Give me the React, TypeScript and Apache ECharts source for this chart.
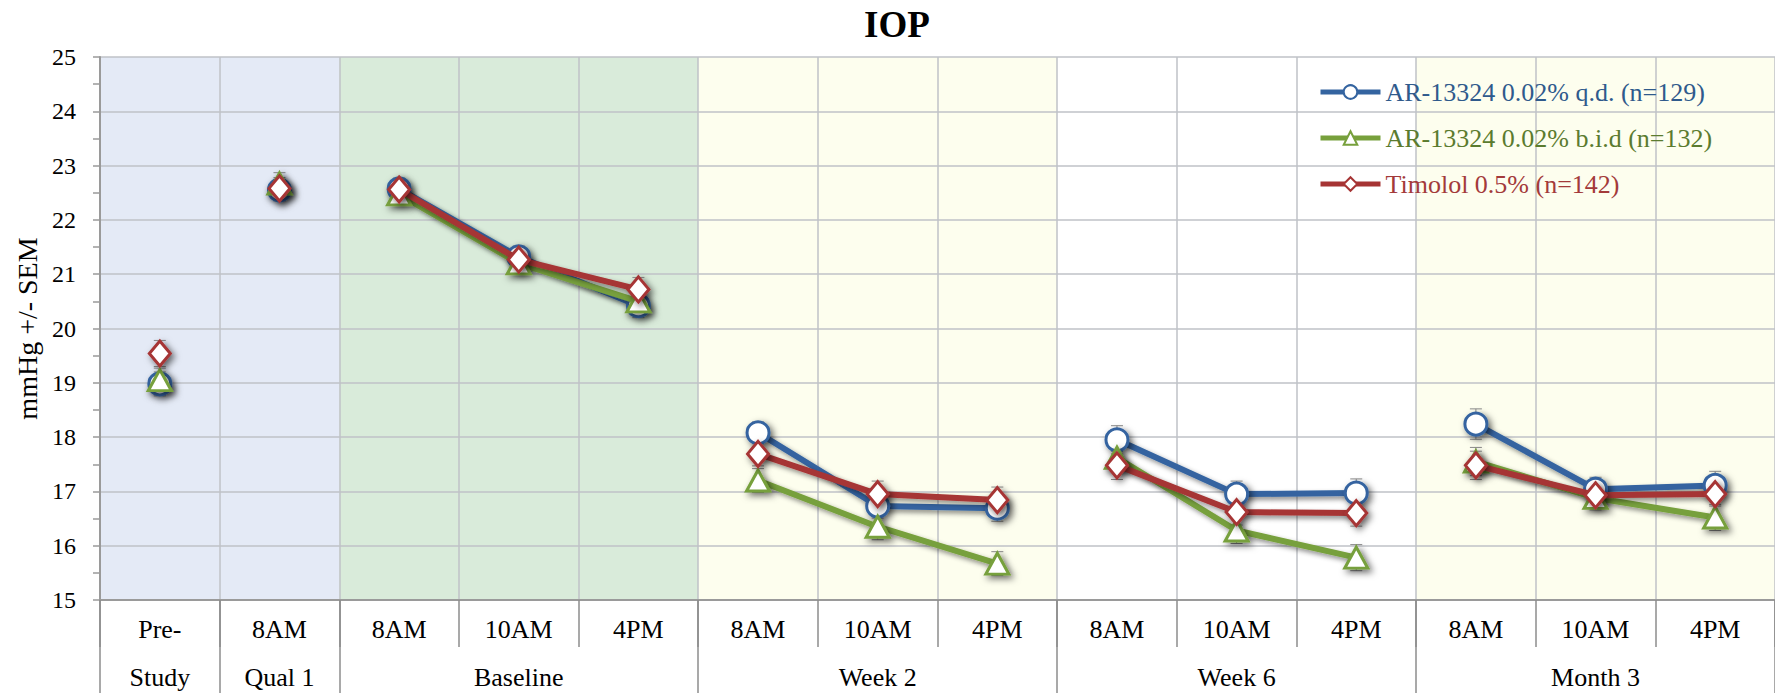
import React, { useEffect, useRef } from "react";
import * as echarts from "echarts";

// ---- data ----
const timeLabels = ["Pre-", "8AM", "8AM", "10AM", "4PM", "8AM", "10AM", "4PM", "8AM", "10AM", "4PM", "8AM", "10AM", "4PM"];
const groupNames = ["Study", "Qual 1", "Baseline", "Week 2", "Week 6", "Month 3"];
const groupSizes = [1, 1, 3, 3, 3, 3];
const connectedGroups = [false, false, true, true, true, true];

const seriesNames = ["AR-13324 0.02% q.d. (n=129)", "AR-13324 0.02% b.i.d (n=132)", "Timolol 0.5% (n=142)"];
const qdValues = [18.98, 22.55, 22.57, 21.32, 20.42, 18.08, 16.73, 16.69, 17.95, 16.95, 16.97, 18.24, 17.04, 17.11];
const bidValues = [19.05, 22.67, 22.47, 21.2, 20.5, 17.2, 16.35, 15.67, 17.62, 16.28, 15.78, 17.55, 16.88, 16.52];
const timololValues = [19.54, 22.58, 22.56, 21.27, 20.72, 17.69, 16.95, 16.84, 17.48, 16.62, 16.6, 17.48, 16.93, 16.95];
const qdSem = [0.22, 0.2, 0.2, 0.2, 0.22, 0.2, 0.22, 0.24, 0.26, 0.24, 0.26, 0.28, 0.22, 0.26];
const bidSem = [0.22, 0.2, 0.2, 0.2, 0.22, 0.22, 0.24, 0.22, 0.26, 0.24, 0.24, 0.26, 0.22, 0.24];
const timololSem = [0.24, 0.2, 0.2, 0.2, 0.22, 0.22, 0.24, 0.24, 0.26, 0.24, 0.24, 0.26, 0.22, 0.22];

const yMin = 15;
const yMax = 25;
const yInterval = 1;

// ---- styles ----
const FONT = '"Liberation Serif", "Times New Roman", serif';
const bandColors = ["#E4EAF6", "#E4EAF6", "#D9EBDA", "#FDFEEE", "#FFFFFF", "#FDFEEE"];
const lineColors = ["#3464A0", "#77A03C", "#A63434"];
const textColors = ["#2F5A8C", "#5B7B2E", "#A33A3A"];
const symbols = ["circle", "triangle", "diamond"];
const symbolSizes: any[] = [22, [23, 21], [21, 25]];
const gridColor = "#BFC2C7";

export default function App() {
  const ref = useRef<HTMLDivElement>(null);

  useEffect(() => {
    if (!ref.current) return;
    const chart = echarts.init(ref.current, null, { renderer: "svg" });

    const allValues = [qdValues, bidValues, timololValues];
    const allSem = [qdSem, bidSem, timololSem];

    const groupRanges: number[][] = [];
    let start = 0;
    groupSizes.forEach((s) => {
      groupRanges.push([start, start + s - 1]);
      start += s;
    });
    const groupStarts = groupRanges.map((r) => r[0]);
    const rowLabels = timeLabels.map(() => "");
    groupRanges.forEach((r, gi) => {
      rowLabels[Math.floor((r[0] + r[1]) / 2)] = groupNames[gi];
    });

    const bandSeries = {
      type: "custom",
      z: -1,
      silent: true,
      coordinateSystem: "cartesian2d",
      xAxisIndex: 0,
      yAxisIndex: 0,
      encode: { x: [0, 1] },
      data: groupRanges.map((r) => [r[0], r[1]]),
      renderItem: (params: any, api: any) => {
        const s = api.value(0);
        const e = api.value(1);
        const w = api.size([1, 0])[0];
        const p0 = api.coord([s, yMax]);
        const p1 = api.coord([e, yMin]);
        return {
          type: "rect",
          shape: { x: p0[0] - w / 2, y: p0[1], width: p1[0] - p0[0] + w, height: p1[1] - p0[1] },
          style: { fill: bandColors[params.dataIndex] },
        };
      },
    };

    const errorSeries = allValues.map((vals, si) => ({
      type: "custom",
      z: 1,
      silent: true,
      coordinateSystem: "cartesian2d",
      encode: { x: 0, y: 1 },
      data: vals.map((v, i) => [i, v, allSem[si][i]]),
      renderItem: (params: any, api: any) => {
        const x = api.value(0);
        const v = api.value(1);
        const e = api.value(2);
        const top = api.coord([x, v + e]);
        const bot = api.coord([x, v - e]);
        const cap = 6;
        const st = { stroke: "#8a8a8a", lineWidth: 1 };
        return {
          type: "group",
          children: [
            { type: "line", shape: { x1: top[0], y1: top[1], x2: bot[0], y2: bot[1] }, style: st },
            { type: "line", shape: { x1: top[0] - cap, y1: top[1], x2: top[0] + cap, y2: top[1] }, style: st },
            { type: "line", shape: { x1: bot[0] - cap, y1: bot[1], x2: bot[0] + cap, y2: bot[1] }, style: st },
          ],
        };
      },
    }));

    const lineSeries: any[] = [];
    allValues.forEach((vals, si) => {
      groupRanges.forEach((r, gi) => {
        const data = vals.map((v, i) => (i >= r[0] && i <= r[1] ? v : "-"));
        lineSeries.push({
          type: "line",
          name: seriesNames[si],
          data,
          connectNulls: false,
          symbol: symbols[si],
          symbolSize: symbolSizes[si],
          showSymbol: true,
          showAllSymbol: true,
          z: 3 + si,
          color: lineColors[si],
          lineStyle: {
            color: lineColors[si],
            width: connectedGroups[gi] ? 6 : 0,
            shadowColor: "rgba(0,0,0,0.45)",
            shadowBlur: 5,
            shadowOffsetX: 3,
            shadowOffsetY: 3,
          },
          itemStyle: {
            color: "#FFFFFF",
            borderColor: lineColors[si],
            borderWidth: 3,
            shadowColor: "rgba(0,0,0,0.6)",
            shadowBlur: 7,
            shadowOffsetX: 3,
            shadowOffsetY: 3,
          },
          emphasis: { disabled: true },
        });
      });
    });

    const option: any = {
      animation: false,
      backgroundColor: "#FFFFFF",
      graphic: [
        {
          type: "text",
          x: 897,
          y: 6,
          style: {
            text: "IOP",
            textAlign: "center",
            textVerticalAlign: "top",
            font: `bold 37px ${FONT}`,
            fill: "#000",
          },
        },
      ],
      legend: {
        orient: "vertical",
        left: 1318,
        top: 79,
        padding: 0,
        itemWidth: 60,
        itemHeight: 17,
        itemGap: 20,
        textStyle: { fontFamily: FONT, fontSize: 26 },
        itemStyle: { shadowBlur: 0, shadowColor: "transparent", shadowOffsetX: 0, shadowOffsetY: 0 },
        lineStyle: { width: 5, shadowBlur: 0, shadowColor: "transparent", shadowOffsetX: 0, shadowOffsetY: 0 },
        data: seriesNames.map((n, i) => ({ name: n, textStyle: { color: textColors[i] } })),
      },
      grid: { left: 100, top: 57, right: -14, bottom: 93, containLabel: false },
      xAxis: [
        {
          type: "category",
          data: timeLabels,
          boundaryGap: true,
          position: "bottom",
          axisLine: { show: true, lineStyle: { color: "#9A9A9A", width: 2 } },
          axisTick: { show: true, length: 47, interval: 0, lineStyle: { color: "#8C8C8C", width: 1.5 } },
          axisLabel: { interval: 0, margin: 16, fontFamily: FONT, fontSize: 26, color: "#000" },
          splitLine: { show: true, interval: 0, lineStyle: { color: gridColor, width: 1.5 } },
        },
        {
          type: "category",
          data: timeLabels,
          boundaryGap: true,
          position: "bottom",
          axisLine: { show: false },
          axisTick: {
            show: true,
            length: 100,
            interval: (i: number) => groupStarts.includes(i),
            lineStyle: { color: "#8C8C8C", width: 1.5 },
          },
          axisLabel: {
            interval: 0,
            margin: 64,
            fontFamily: FONT,
            fontSize: 26,
            color: "#000",
            formatter: (_v: string, i: number) => rowLabels[i],
          },
          splitLine: { show: false },
        },
      ],
      yAxis: {
        type: "value",
        min: yMin,
        max: yMax,
        interval: yInterval,
        name: "mmHg +/- SEM",
        nameLocation: "middle",
        nameRotate: 90,
        nameGap: 57,
        nameTextStyle: { fontFamily: FONT, fontSize: 28, color: "#000" },
        axisLine: { show: true, lineStyle: { color: "#9A9A9A", width: 2 } },
        axisTick: { show: true, length: 7, lineStyle: { color: "#9A9A9A", width: 1.5 } },
        minorTick: { show: true, splitNumber: 2, length: 7, lineStyle: { color: "#9A9A9A", width: 1.5 } },
        axisLabel: { margin: 24, fontFamily: FONT, fontSize: 24, color: "#000" },
        splitLine: { show: true, lineStyle: { color: gridColor, width: 1.5 } },
      },
      series: [bandSeries, ...errorSeries, ...lineSeries],
    };

    chart.setOption(option);
    return () => {
      chart.dispose();
    };
  }, []);

  return (
    <div
      ref={ref}
      style={{ position: "fixed", left: 0, top: 0, width: 1775, height: 693, background: "#fff" }}
    />
  );
}
